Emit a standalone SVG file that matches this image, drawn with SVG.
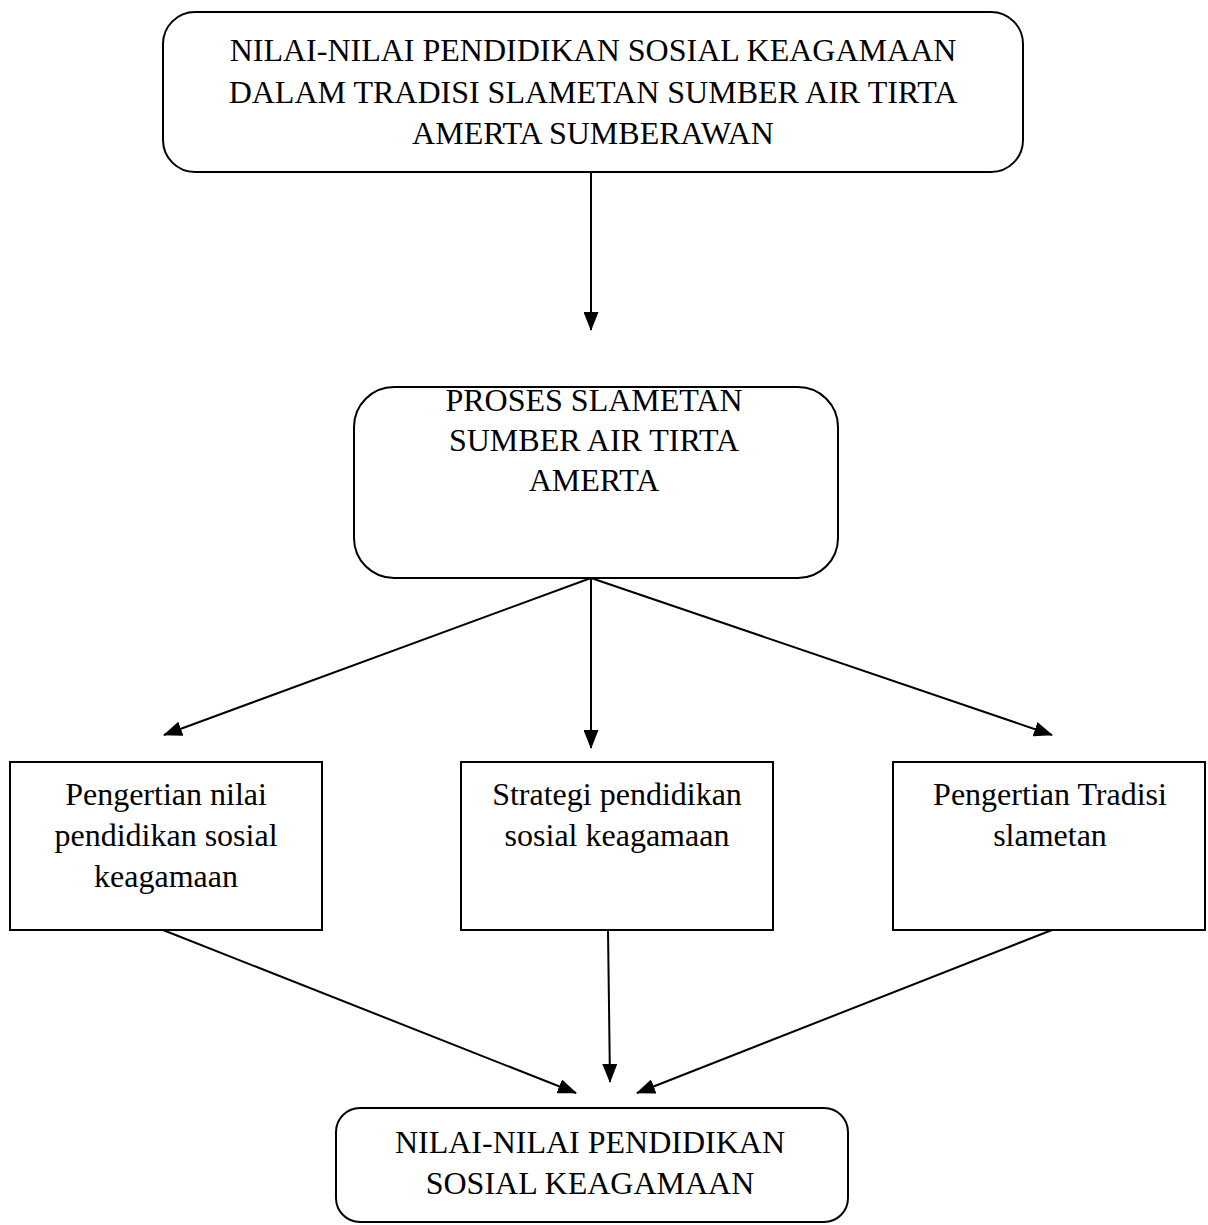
<svg xmlns="http://www.w3.org/2000/svg" width="1208" height="1225" viewBox="0 0 1208 1225">
<style>
.box{fill:#fff;stroke:#000;stroke-width:2}
.t{font-family:"Liberation Serif","Times New Roman",serif;font-size:32px;fill:#000;text-anchor:middle}
.c{stroke:#000;stroke-width:2;fill:none;marker-end:url(#ah)}
</style>
<defs>
<marker id="ah" markerUnits="userSpaceOnUse" markerWidth="19" markerHeight="15" refX="18" refY="7.5" orient="auto">
<path d="M0,0 L19,7.5 L0,15 Z" fill="#000"/>
</marker>
</defs>
<rect width="1208" height="1225" fill="#fff"/>
<g id="connectors">
<line class="c" x1="591" y1="172" x2="591" y2="330"/>
<line class="c" x1="591" y1="578" x2="164" y2="735"/>
<line class="c" x1="591" y1="578" x2="591" y2="748"/>
<line class="c" x1="591" y1="578" x2="1052" y2="735"/>
<line class="c" x1="163" y1="930" x2="576" y2="1093"/>
<line class="c" x1="608" y1="930" x2="610" y2="1082"/>
<line class="c" x1="1052" y1="930" x2="637" y2="1093"/>
</g>
<g id="node-top">
<rect class="box" x="163" y="12" width="860" height="160" rx="32" ry="32"/>
<text class="t" x="593" y="61">NILAI-NILAI PENDIDIKAN SOSIAL KEAGAMAAN</text>
<text class="t" x="593" y="103">DALAM TRADISI SLAMETAN SUMBER AIR TIRTA</text>
<text class="t" x="593" y="144">AMERTA SUMBERAWAN</text>
</g>
<g id="node-proses">
<rect class="box" x="354" y="387" width="484" height="191" rx="40" ry="40"/>
<text class="t" x="594" y="411">PROSES SLAMETAN</text>
<text class="t" x="594" y="451">SUMBER AIR TIRTA</text>
<text class="t" x="594" y="491">AMERTA</text>
</g>
<g id="node-pengertian-nilai">
<rect class="box" x="10" y="762" width="312" height="168"/>
<text class="t" x="166" y="805">Pengertian nilai</text>
<text class="t" x="166" y="846">pendidikan sosial</text>
<text class="t" x="166" y="887">keagamaan</text>
</g>
<g id="node-strategi">
<rect class="box" x="461" y="762" width="312" height="168"/>
<text class="t" x="617" y="805">Strategi pendidikan</text>
<text class="t" x="617" y="846">sosial keagamaan</text>
</g>
<g id="node-pengertian-tradisi">
<rect class="box" x="893" y="762" width="312" height="168"/>
<text class="t" x="1050" y="805">Pengertian Tradisi</text>
<text class="t" x="1050" y="846">slametan</text>
</g>
<g id="node-bottom">
<rect class="box" x="336" y="1108" width="512" height="114" rx="24" ry="24"/>
<text class="t" x="590" y="1153">NILAI-NILAI PENDIDIKAN</text>
<text class="t" x="590" y="1194">SOSIAL KEAGAMAAN</text>
</g>
</svg>
